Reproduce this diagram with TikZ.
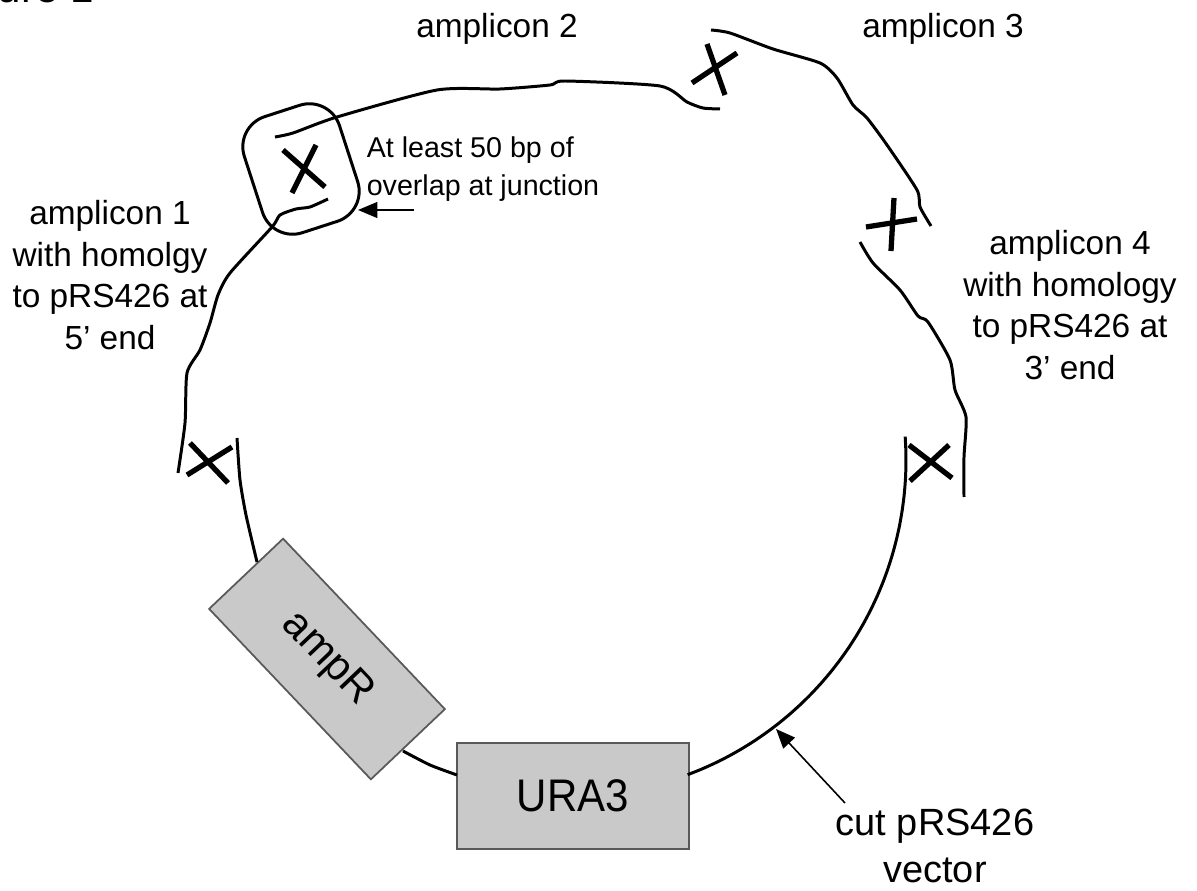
\documentclass[tikz,border=0pt]{standalone}
\usepackage{fontspec}
\setmainfont{Liberation Sans}
\usetikzlibrary{arrows.meta}

\begin{document}
\begin{tikzpicture}[x=0.02cm, y=-0.02cm, thick]
        \tikzstyle{label}=[align=center, inner sep=0pt, font=\fontsize{19}{23.8}\selectfont]
        \tikzstyle{small}=[align=left, inner sep=0pt, font=\fontsize{16.3}{21.8}\selectfont]
        \tikzstyle{gene}=[rectangle, draw=black!65, fill=black!21, line width=1pt, inner sep=0pt]
        \tikzstyle{strand}=[line width=1.7pt, smooth, tension=0.4]
        \tikzstyle{crossmark}=[line width=3pt]
        \tikzstyle{pointer}=[line width=0.9pt, -{Triangle[length=11pt, width=9pt]}]

        \useasboundingbox (0,0) rectangle (1197,891);

        \node[anchor=base west, inner sep=0pt, font=\fontsize{24}{28}\selectfont] (figtitle) at (-3,3) {ure 1};

        \node[label] (amp1) at (110,275) {amplicon 1\\with homolgy\\to pRS426 at\\5’ end};
        \node[label] (amp2) at (497,29) {amplicon 2};
        \node[label] (amp3) at (943,29) {amplicon 3};
        \node[label] (amp4) at (1070,305) {amplicon 4\\with homology\\to pRS426 at\\3’ end};
        \node[small] (overlap) at (483,169) {At least 50 bp of\\overlap at junction};
        \node[label, font=\fontsize{21.6}{26.5}\selectfont] (vectorlabel) at (935,846) {cut pRS426\\vector};

        \node[gene, minimum width=232*0.02cm, minimum height=106*0.02cm, font=\fontsize{26}{30}\selectfont] (ura) at (573,796) {\scalebox{0.92}[1]{URA3}};
        \node[gene, minimum width=235*0.02cm, minimum height=102*0.02cm, rotate=-46.5, font=\fontsize{24}{28}\selectfont] (amp) at (327,659) {ampR};
        \node[draw, line width=1.7pt, rounded corners=18pt, minimum width=100*0.02cm, minimum height=122*0.02cm, rotate=18] (junction) at (301,169) {};

        % vector
        \draw[strand] plot[domain=-4:69.5, samples=30] ({570+336*cos(\x)}, {460+336*sin(\x)});
        \draw[strand] plot coordinates {(457,775) (430,765) (403,751)};
        \draw[strand] plot coordinates {(257,562) (246,515) (240,480) (237,438)};

        % amplicons
        \draw[strand] plot coordinates {(328,199) (310,207) (296,209) (280,215) (272,227) (230,273) (218,295) (210,323) (200,350) (187,373) (185,423) (178,473)};
        \draw[strand] plot coordinates {(275,137) (293,133) (337,117) (437,90) (500,89) (550,85) (565,81) (660,86) (687,102) (703,108) (720,109)};
        \draw[strand] plot coordinates {(711,30) (730,33) (773,49) (820,63) (837,78) (853,105) (867,118) (887,145) (917,190) (920,207) (931,226)};
        \draw[strand] plot coordinates {(860,242) (873,263) (900,290) (918,316) (928,322) (950,360) (955,390) (966,417) (964,457) (964,497)};

        % crosses
        \draw[crossmark] (283,150) -- (325,187) (316,145) -- (292,193);
        \draw[crossmark] (707,44) -- (725,95) (737,53) -- (692,83);
        \draw[crossmark] (894,198) -- (891,251) (866,227) -- (917,219);
        \draw[crossmark] (909,445) -- (952,478) (949,445) -- (910,481);
        \draw[crossmark] (190,443) -- (228,483) (232,447) -- (187,475);

        \coordinate (overlaptail) at (414,210);
        \coordinate (overlaptip) at (358,210);
        \coordinate (vectortail) at (845,803);
        \coordinate (vectortip) at (776,729);
        \draw[pointer] (overlaptail) -- (overlaptip);
        \draw[pointer] (vectortail) -- (vectortip);
    \end{tikzpicture}
\end{document}
